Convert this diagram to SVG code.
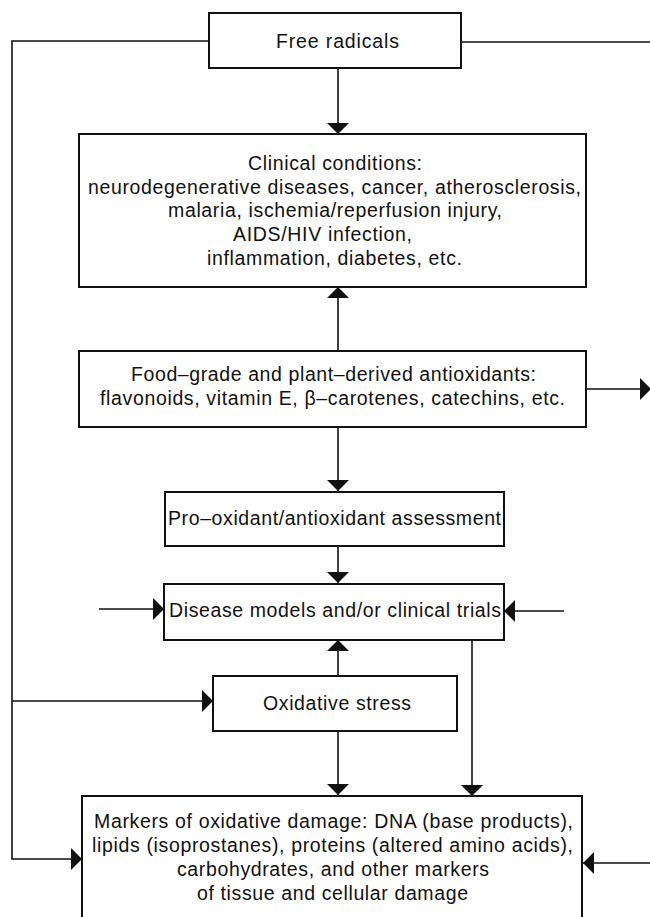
<svg xmlns="http://www.w3.org/2000/svg" width="650" height="917" viewBox="0 0 650 917">
  <style>
    .box { fill: #ffffff; stroke: #111111; stroke-width: 2; }
    .t { font-family: "Liberation Sans", Arial, Helvetica, sans-serif; font-size: 19.5px; fill: #111111; }
    .c { fill: none; stroke: #111111; stroke-width: 1.6; }
  </style>
  <defs>
    <marker id="ah" viewBox="0 0 11 22" refX="11" refY="11" markerWidth="11" markerHeight="22" markerUnits="userSpaceOnUse" orient="auto">
      <path d="M0,0 L11,11 L0,22 z" fill="#111111"/>
    </marker>
  </defs>
  <rect width="650" height="917" fill="#ffffff"/>

  <g id="connectors">
    <path class="c" d="M209,41 H12 V859 H82" marker-end="url(#ah)"/>
    <path class="c" d="M12,701 H213" marker-end="url(#ah)"/>
    <path class="c" d="M461,42 H650"/>
    <path class="c" d="M338,68 V134" marker-end="url(#ah)"/>
    <path class="c" d="M338,351 V287" marker-end="url(#ah)"/>
    <path class="c" d="M586,389 H651" marker-end="url(#ah)"/>
    <path class="c" d="M338,427 V491" marker-end="url(#ah)"/>
    <path class="c" d="M338,546 V583" marker-end="url(#ah)"/>
    <path class="c" d="M99,609 H164" marker-end="url(#ah)"/>
    <path class="c" d="M564,611 H504" marker-end="url(#ah)"/>
    <path class="c" d="M338,676 V640" marker-end="url(#ah)"/>
    <path class="c" d="M338,731 V795" marker-end="url(#ah)"/>
    <path class="c" d="M472,640 V796" marker-end="url(#ah)"/>
    <path class="c" d="M651,863 H583" marker-end="url(#ah)"/>
  </g>

  <g id="free-radicals">
    <rect class="box" x="209" y="13" width="252" height="55"/>
    <text class="t" x="276" y="48" textLength="123" lengthAdjust="spacing">Free radicals</text>
  </g>

  <g id="clinical-conditions">
    <rect class="box" x="79" y="134" width="507" height="153"/>
    <text class="t" x="248" y="170" textLength="174" lengthAdjust="spacing">Clinical conditions:</text>
    <text class="t" x="88" y="193.5" textLength="493" lengthAdjust="spacing">neurodegenerative diseases, cancer, atherosclerosis,</text>
    <text class="t" x="168" y="217" textLength="334" lengthAdjust="spacing">malaria, ischemia/reperfusion injury,</text>
    <text class="t" x="233" y="241" textLength="179" lengthAdjust="spacing">AIDS/HIV infection,</text>
    <text class="t" x="207" y="265" textLength="255" lengthAdjust="spacing">inflammation, diabetes, etc.</text>
  </g>

  <g id="antioxidants">
    <rect class="box" x="79" y="351" width="507" height="76"/>
    <text class="t" x="131" y="381" textLength="405" lengthAdjust="spacing">Food–grade and plant–derived antioxidants:</text>
    <text class="t" x="100" y="405" textLength="465" lengthAdjust="spacing">flavonoids, vitamin E, β–carotenes, catechins, etc.</text>
  </g>

  <g id="assessment">
    <rect class="box" x="165" y="492" width="339" height="54"/>
    <text class="t" x="168" y="525" textLength="333" lengthAdjust="spacing">Pro–oxidant/antioxidant assessment</text>
  </g>

  <g id="disease-models">
    <rect class="box" x="164" y="584" width="340" height="56"/>
    <text class="t" x="169" y="617" textLength="332" lengthAdjust="spacing">Disease models and/or clinical trials</text>
  </g>

  <g id="oxidative-stress">
    <rect class="box" x="213" y="676" width="244" height="55"/>
    <text class="t" x="263" y="710" textLength="148" lengthAdjust="spacing">Oxidative stress</text>
  </g>

  <g id="markers">
    <rect class="box" x="82" y="796" width="500" height="130"/>
    <text class="t" x="94" y="828" textLength="479" lengthAdjust="spacing">Markers of oxidative damage: DNA (base products),</text>
    <text class="t" x="92" y="852" textLength="481" lengthAdjust="spacing">lipids (isoprostanes), proteins (altered amino acids),</text>
    <text class="t" x="177" y="875.5" textLength="312" lengthAdjust="spacing">carbohydrates, and other markers</text>
    <text class="t" x="197" y="899.5" textLength="271" lengthAdjust="spacing">of tissue and cellular damage</text>
  </g>
</svg>
